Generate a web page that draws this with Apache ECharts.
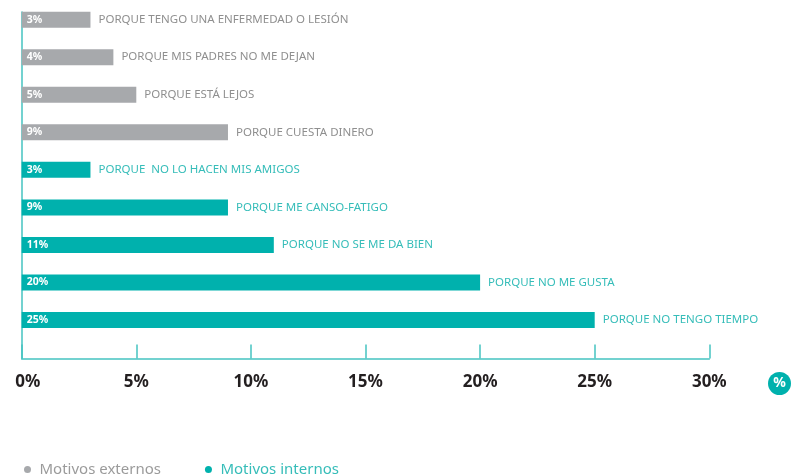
<!DOCTYPE html>
<html>
<head>
<meta charset="utf-8">
<script src="https://cdn.jsdelivr.net/npm/echarts@6/dist/echarts.min.js"></script>
<style>
  html, body { margin: 0; padding: 0; background: #ffffff; }
  #chart { width: 791px; height: 474px; }
</style>
</head>
<body>
<div id="chart"></div>
<script>
// Reasons for not doing sport, split into external and internal motives (%)
const categories = [
  'PORQUE TENGO UNA ENFERMEDAD O LESIÓN',
  'PORQUE MIS PADRES NO ME DEJAN',
  'PORQUE ESTÁ LEJOS',
  'PORQUE CUESTA DINERO',
  'PORQUE  NO LO HACEN MIS AMIGOS',
  'PORQUE ME CANSO-FATIGO',
  'PORQUE NO SE ME DA BIEN',
  'PORQUE NO ME GUSTA',
  'PORQUE NO TENGO TIEMPO'
];
const externos = [3, 4, 5, 9, null, null, null, null, null];
const internos = [null, null, null, null, 3, 9, 11, 20, 25];
const axisMin = 0;
const axisMax = 30;
const axisStep = 5;

const GRAY = '#a7a9ac';
const TEAL = '#00b1ad';
const GRAY_TEXT = '#8f8f8f';
const TEAL_TEXT = '#36bdb9';
const AXIS_TEAL = '#45c3c1';
const FONT = '"Noto Sans", sans-serif';

const grid = { left: 21.7, right: 81.7 };

const valueLabel = {
  show: true,
  position: 'insideLeft',
  distance: 5,
  color: '#ffffff',
  fontFamily: FONT,
  fontWeight: 'bold',
  fontSize: 10.5,
  formatter: p => p.value + '%'
};

// names shown after each bar, coloured by group
const nameData = categories.map((c, i) => {
  const isExt = externos[i] != null;
  return {
    value: isExt ? externos[i] : internos[i],
    label: { color: isExt ? GRAY_TEXT : TEAL_TEXT }
  };
});

const chart = echarts.init(document.getElementById('chart'), null, { renderer: 'canvas' });
chart.setOption({
  animation: false,
  backgroundColor: '#ffffff',
  grid: [
    // bars
    { left: grid.left, right: grid.right, top: 0.9, height: 337.9 },
    // axis frame
    { left: grid.left, right: grid.right, top: 12, bottom: 115.5 }
  ],
  xAxis: [
    {
      gridIndex: 0, type: 'value', min: axisMin, max: axisMax,
      show: false, splitLine: { show: false }
    },
    {
      gridIndex: 1, type: 'value', min: axisMin, max: axisMax, interval: axisStep,
      axisLine: { show: true, lineStyle: { color: AXIS_TEAL, width: 1.5 } },
      axisTick: { show: true, inside: true, length: 14, lineStyle: { color: AXIS_TEAL, width: 1.5 } },
      splitLine: { show: false },
      axisLabel: {
        margin: 15,
        color: '#231f20',
        fontFamily: FONT,
        fontWeight: 'bold',
        fontSize: 17,
        formatter: v => v === axisMin ? '{first|' + v + '%}' : v + '%',
        rich: {
          first: {
            padding: [0, 0, 0, 12],
            color: '#231f20', fontFamily: FONT, fontWeight: 'bold', fontSize: 17
          }
        }
      }
    }
  ],
  yAxis: [
    {
      gridIndex: 0, type: 'category', data: categories, inverse: true,
      show: false
    },
    {
      gridIndex: 1, type: 'value', min: 0, max: 1,
      axisLine: { show: true, lineStyle: { color: AXIS_TEAL, width: 1.5 } },
      axisTick: { show: false },
      axisLabel: { show: false },
      splitLine: { show: false }
    }
  ],
  legend: {
    data: [
      { name: 'Motivos externos', textStyle: { color: '#9b9b9b' } },
      { name: 'Motivos internos', textStyle: { color: TEAL_TEXT } }
    ],
    left: 19,
    top: 457,
    icon: 'circle',
    itemWidth: 14,
    itemHeight: 7,
    itemGap: 44,
    textStyle: { fontFamily: FONT, fontSize: 15 }
  },
  series: [
    {
      name: 'Motivos externos', type: 'bar',
      xAxisIndex: 0, yAxisIndex: 0,
      data: externos, barWidth: 16, barGap: '-100%',
      itemStyle: { color: GRAY },
      label: valueLabel
    },
    {
      name: 'Motivos internos', type: 'bar',
      xAxisIndex: 0, yAxisIndex: 0,
      data: internos, barWidth: 16, barGap: '-100%',
      itemStyle: { color: TEAL },
      label: valueLabel
    },
    {
      name: 'names', type: 'bar',
      xAxisIndex: 0, yAxisIndex: 0,
      data: nameData, barWidth: 16, barGap: '-100%',
      silent: true,
      itemStyle: { color: 'rgba(0,0,0,0)' },
      label: {
        show: true,
        position: 'right',
        distance: 8,
        fontFamily: FONT,
        fontSize: 11.5,
        formatter: p => p.name
      }
    }
  ],
  graphic: [
    {
      type: 'group',
      left: 768, top: 372,
      children: [
        { type: 'circle', shape: { cx: 11, cy: 11, r: 11.5 }, style: { fill: TEAL } },
        {
          type: 'text', x: 11, y: 11,
          style: {
            text: '%', fill: '#ffffff', font: 'bold 14px ' + FONT,
            align: 'center', verticalAlign: 'middle'
          }
        }
      ]
    }
  ]
});
</script>
</body>
</html>
